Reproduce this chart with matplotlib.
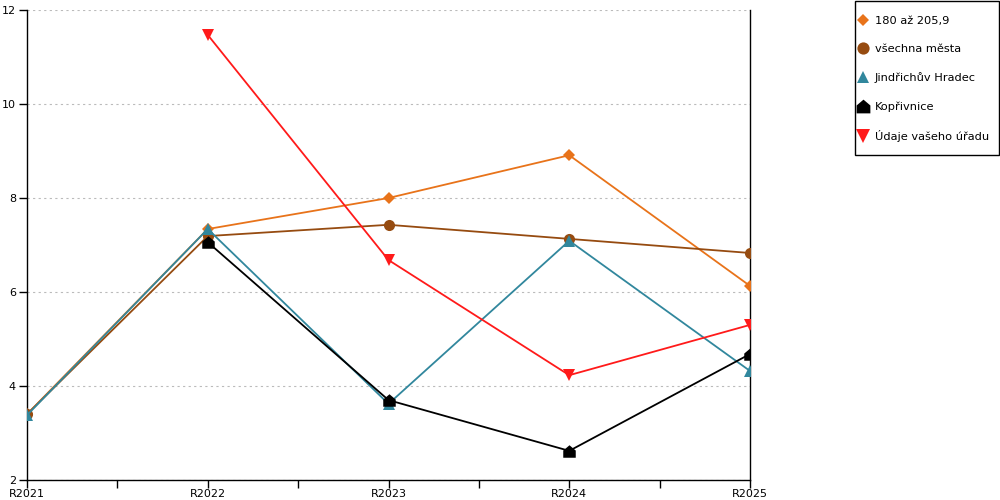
import matplotlib.pyplot as plt
from matplotlib.path import Path
from matplotlib.patches import Rectangle

years = ['R2021', 'R2022', 'R2023', 'R2024', 'R2025']
s_180 = [3.40, 7.34, 8.00, 8.91, 6.13]
s_vsechna = [3.40, 7.19, 7.43, 7.13, 6.83]
s_jh = [3.38, 7.34, 3.62, 7.09, 4.32]
s_kop = [None, 7.06, 3.70, 2.62, 4.68]
s_urad = [None, 11.47, 6.68, 4.23, 5.30]

house = Path([(-1, -1), (1, -1), (1, 0.15), (0, 1), (-1, 0.15), (-1, -1)],
             [Path.MOVETO, Path.LINETO, Path.LINETO, Path.LINETO, Path.LINETO, Path.CLOSEPOLY])

series = [
    ('180 až 205,9', s_180, '#e8731a', 'D', 6),
    ('všechna města', s_vsechna, '#964b10', 'o', 8),
    ('Jindřichův Hradec', s_jh, '#31879d', '^', 8),
    ('Kopřivnice', s_kop, '#000000', house, 9),
    ('Údaje vašeho úřadu', s_urad, '#ff1a1a', 'v', 9),
]

fig = plt.figure(figsize=(10, 5), dpi=100)
ax = fig.add_axes([0.027, 0.04, 0.723, 0.94])

xs = list(range(len(years)))
for label, vals, col, mk, ms in series:
    px = [x for x, v in zip(xs, vals) if v is not None]
    py = [v for v in vals if v is not None]
    ax.plot(px, py, color=col, lw=1.3, marker=mk, ms=ms, label=label,
            markeredgewidth=0, zorder=3)

ax.set_xlim(0, 4)
ax.set_ylim(2, 12)
ax.set_yticks([2, 4, 6, 8, 10, 12])
ax.set_xticks(xs)
ax.set_xticklabels(years)
ax.set_xticks([0.5, 1.5, 2.5, 3.5], minor=True)
ax.tick_params(axis='both', which='both', direction='out', length=6, width=1,
               labelsize=8, colors='black')
ax.tick_params(axis='x', which='both', pad=0.5)
ax.tick_params(axis='y', which='both', pad=2)
ax.grid(axis='y', linestyle=(0, (2, 3)), color='#bbbbbb', lw=0.8)
ax.spines['top'].set_visible(False)
for sp in ['left', 'right', 'bottom']:
    ax.spines[sp].set_color('black')
    ax.spines[sp].set_linewidth(1)

# legend without its own frame, box drawn separately
leg = fig.legend(loc='upper left', bbox_to_anchor=(0.852, 0.984), fontsize=8.2,
                 frameon=False, labelspacing=1.6, handlelength=0.5,
                 handletextpad=0.8, borderpad=0.7, borderaxespad=0,
                 markerscale=1.1)
for h in leg.legend_handles:
    h.set_linestyle('none')
fig.patches.append(Rectangle((0.855, 0.69), 0.144, 0.309, transform=fig.transFigure,
                             fill=False, edgecolor='black', lw=1))

fig.savefig('out.png', dpi=100)
